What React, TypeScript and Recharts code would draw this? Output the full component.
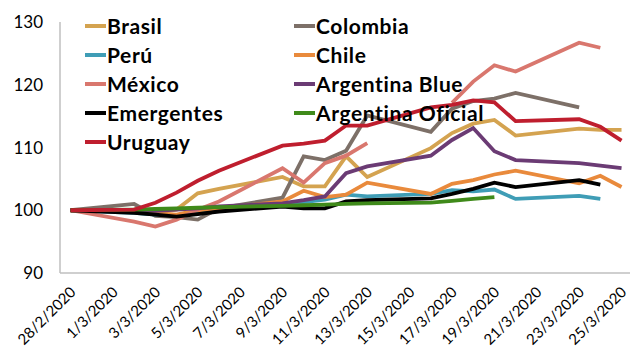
import { LineChart, Line, XAxis, YAxis } from 'recharts';

// trading days, counted from 28/2/2020 (0) to 25/3/2020 (26)
const days = [0, 3, 4, 5, 6, 7, 10, 11, 12, 13, 14, 17, 18, 19, 20, 21, 24, 25, 26];
const tickLabels = ['28/2/2020', '1/3/2020', '3/3/2020', '5/3/2020', '7/3/2020', '9/3/2020', '11/3/2020',
  '13/3/2020', '15/3/2020', '17/3/2020', '19/3/2020', '21/3/2020', '23/3/2020', '25/3/2020'];

const brasil = [100, 99.8, 99.6, 100.1, 102.7, 103.4, 105.3, 103.8, 103.8, 108.6, 105.3, 109.9, 112.3, 113.8, 114.4, 111.9, 113.0, 112.8, 112.8];
const colombia = [100, 101.0, 99.1, 98.9, 98.5, 100.3, 102.0, 108.6, 108.0, 109.5, 115.1, 112.5, 116.2, 117.4, 117.8, 118.7, 116.4, null, null];
const peru = [100, 99.6, 99.3, 99.2, 99.5, 100.0, 100.8, 101.3, 101.7, 102.5, 102.2, 102.6, 103.2, 103.0, 103.3, 101.8, 102.3, 101.8, null];
const chile = [100, 99.8, 99.5, 99.3, 100.0, 100.3, 101.4, 103.1, 102.1, 102.5, 104.4, 102.6, 104.2, 104.8, 105.7, 106.3, 104.3, 105.5, 103.7];
const mexico = [100, 98.2, 97.4, 98.5, 100.1, 101.4, 106.7, 104.4, 107.5, 108.7, 110.7, null, 117.1, 120.5, 123.1, 122.1, 126.7, 125.9, null];
const argBlue = [100, 100.0, 99.9, 100.1, 100.3, 100.6, 101.1, 101.6, 102.2, 105.9, 107.0, 108.7, 111.2, 113.1, 109.4, 108.0, 107.5, 107.1, 106.7];
const emergentes = [100, 99.6, 99.3, 99.0, 99.4, 99.8, 100.6, 100.3, 100.3, 101.4, 101.6, 101.9, 102.6, 103.4, 104.4, 103.7, 104.8, 104.1, null];
const argOficial = [100, 100.1, 100.2, 100.3, 100.4, 100.5, 100.7, 100.8, 100.9, 101.0, 101.1, 101.2, 101.5, 101.8, 102.1, null, null, null, null];
const uruguay = [100, 100.1, 101.2, 102.8, 104.7, 106.3, 110.3, 110.6, 111.1, 113.5, 113.5, 116.4, 116.8, 117.5, 117.2, 114.2, 114.5, 113.3, 111.1];

const series = [
  { key: 'Brasil', values: brasil, color: '#D4A350' },
  { key: 'Colombia', values: colombia, color: '#7D7068' },
  { key: 'Perú', values: peru, color: '#3F9DB6' },
  { key: 'Chile', values: chile, color: '#E98A3C' },
  { key: 'México', values: mexico, color: '#D9776E' },
  { key: 'Argentina Blue', values: argBlue, color: '#6B3B74' },
  { key: 'Emergentes', values: emergentes, color: '#000000' },
  { key: 'Argentina Oficial', values: argOficial, color: '#3F8A1A' },
  { key: 'Uruguay', values: uruguay, color: '#BF1E2E' },
];

const data = days.map((day, i) => {
  const row: Record<string, number | null> = { day };
  series.forEach((s) => { row[s.key] = s.values[i]; });
  return row;
});

const xTicks = tickLabels.map((_, i) => i * 2);
const font = 'Lato, "Open Sans", sans-serif';

function XTick({ x, y, payload }: any) {
  const label = tickLabels[payload.value / 2];
  const px = x + 6;
  const py = y + 12;
  return (
    <text x={px} y={py} transform={`rotate(-45, ${px}, ${py})`} textAnchor="end"
      fontSize={15} fontFamily={font} fill="#000">{label}</text>
  );
}

function LegendBox() {
  return (
    <div style={{ position: 'absolute', left: 85, top: 11, width: 430, height: 150, fontFamily: font, fontWeight: 700, fontSize: 21, letterSpacing: 0.6, pointerEvents: 'none' }}>
      {series.map((s, i) => {
        const col = i % 2;
        const row = Math.floor(i / 2);
        return (
          <div key={s.key} style={{ position: 'absolute', left: col * 209, top: row * 29, height: 29, display: 'flex', alignItems: 'center', whiteSpace: 'nowrap' }}>
            <span style={{ display: 'inline-block', width: 21, height: 4, background: s.color, marginRight: 1 }} />
            <span style={{ color: '#000' }}>{s.key}</span>
          </div>
        );
      })}
    </div>
  );
}

export default function App() {
  return (
    <div style={{ position: 'absolute', left: 0, top: 0, width: 630, height: 349, background: '#fff' }}>
      <LineChart width={630} height={349} data={data} margin={{ top: 22, right: 0, bottom: 0, left: 0 }}>
        <XAxis dataKey="day" type="number" domain={[-0.5, 26.4]} allowDataOverflow ticks={xTicks}
          interval={0} tick={<XTick />} tickLine={false} height={76} axisLine={{ stroke: '#BFBFBF', strokeWidth: 1.5 }} />
        <YAxis type="number" domain={[90, 130]} ticks={[90, 100, 110, 120, 130]} width={60}
          tickLine={false} tickSize={0} tickMargin={17} axisLine={{ stroke: '#BFBFBF', strokeWidth: 1.5 }}
          tick={{ fontSize: 17, fontFamily: font, fill: '#000' }} />
        {series.map((s) => (
          <Line key={s.key} dataKey={s.key} stroke={s.color} strokeWidth={3.8} dot={false}
            type="linear" isAnimationActive={false} connectNulls={false} />
        ))}
      </LineChart>
      <LegendBox />
    </div>
  );
}
